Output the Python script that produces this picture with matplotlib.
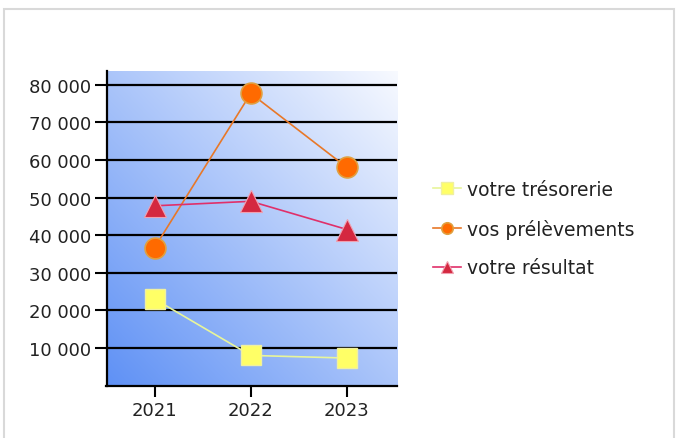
import numpy as np
import matplotlib
matplotlib.use("Agg")
import matplotlib.pyplot as plt
from matplotlib.patches import Rectangle

years = ["2021", "2022", "2023"]
tresorerie = [23000, 8000, 7300]
prelevements = [36700, 77700, 58000]
resultat = [47800, 49000, 41500]
yticks = [10000, 20000, 30000, 40000, 50000, 60000, 70000, 80000]
ytick_labels = ["10 000", "20 000", "30 000", "40 000", "50 000", "60 000", "70 000", "80 000"]
series_names = ["votre trésorerie", "vos prélèvements", "votre résultat"]

plt.rcParams['font.family'] = ['DejaVu Sans']

W, H = 680, 439
fig = plt.figure(figsize=(W/100, H/100), dpi=100)
fig.patch.set_facecolor('white')

# light border around the figure (bottom edge falls outside the picture)
fig.patches.append(Rectangle((4/W, -0.1), (674-4)/W, 1.1 - 9.5/H, transform=fig.transFigure,
                             fill=False, edgecolor='#d9d9d9', linewidth=1.5))

left, right, top, bottom = 106.5, 397, 71.5, 386.5
ax = fig.add_axes([left/W, 1 - bottom/H, (right-left)/W, (bottom-top)/H])

x = np.arange(len(years))
ax.set_xlim(-0.5, 2.52)
ax.set_ylim(0, 83800)

# gradient background
n = 200
gx, gy = np.meshgrid(np.linspace(0, 1, n), np.linspace(0, 1, n))
t = (gx + gy) / 2.0
c0 = np.array([95, 145, 245]) / 255.0
c1 = np.array([248, 250, 255]) / 255.0
img = c0[None, None, :] * (1 - t[..., None]) + c1[None, None, :] * t[..., None]
ax.imshow(img, extent=[0, 1, 0, 1], transform=ax.transAxes, origin='lower',
          aspect='auto', zorder=0, interpolation='bilinear')

for yv in yticks:
    ax.axhline(yv, color='black', linewidth=1.6, zorder=1)

ax.plot(x, tresorerie, color='#e8f59a', linewidth=1.2, marker='s', markersize=15,
        markerfacecolor='#ffff66', markeredgecolor='#f0f0a0', markeredgewidth=1,
        zorder=3, label=series_names[0])
ax.plot(x, prelevements, color='#e87828', linewidth=1.2, marker='o', markersize=15,
        markerfacecolor='#ff6a00', markeredgecolor='#e0a040', markeredgewidth=1.2,
        zorder=3, label=series_names[1])
ax.plot(x, resultat, color='#e0306a', linewidth=1.2, marker='^', markersize=16,
        markerfacecolor='#d42840', markeredgecolor='#f0a0b0', markeredgewidth=0.8,
        zorder=3, label=series_names[2])

ax.set_xticks(x)
ax.set_xticklabels(years)
ax.set_yticks(yticks)
ax.set_yticklabels(ytick_labels)
ax.tick_params(axis='y', length=9, width=1.5, color='black', labelsize=13, pad=2,
               labelcolor='#222222')
ax.tick_params(axis='x', length=8, width=1.5, color='black', labelsize=13, pad=3,
               labelcolor='#222222')

for s in ['top', 'right']:
    ax.spines[s].set_visible(False)
for s in ['left', 'bottom']:
    ax.spines[s].set_linewidth(1.6)
    ax.spines[s].set_color('black')

leg = fig.legend(loc='upper left', bbox_to_anchor=(433/W, 1 - 181/H), frameon=False,
                 fontsize=13.5, handlelength=1.5, handletextpad=0.3, labelspacing=1.05,
                 markerscale=0.55, borderaxespad=0, borderpad=0)
for txt in leg.get_texts():
    txt.set_color('#222222')

fig.savefig('out.png', dpi=100, facecolor='white')
